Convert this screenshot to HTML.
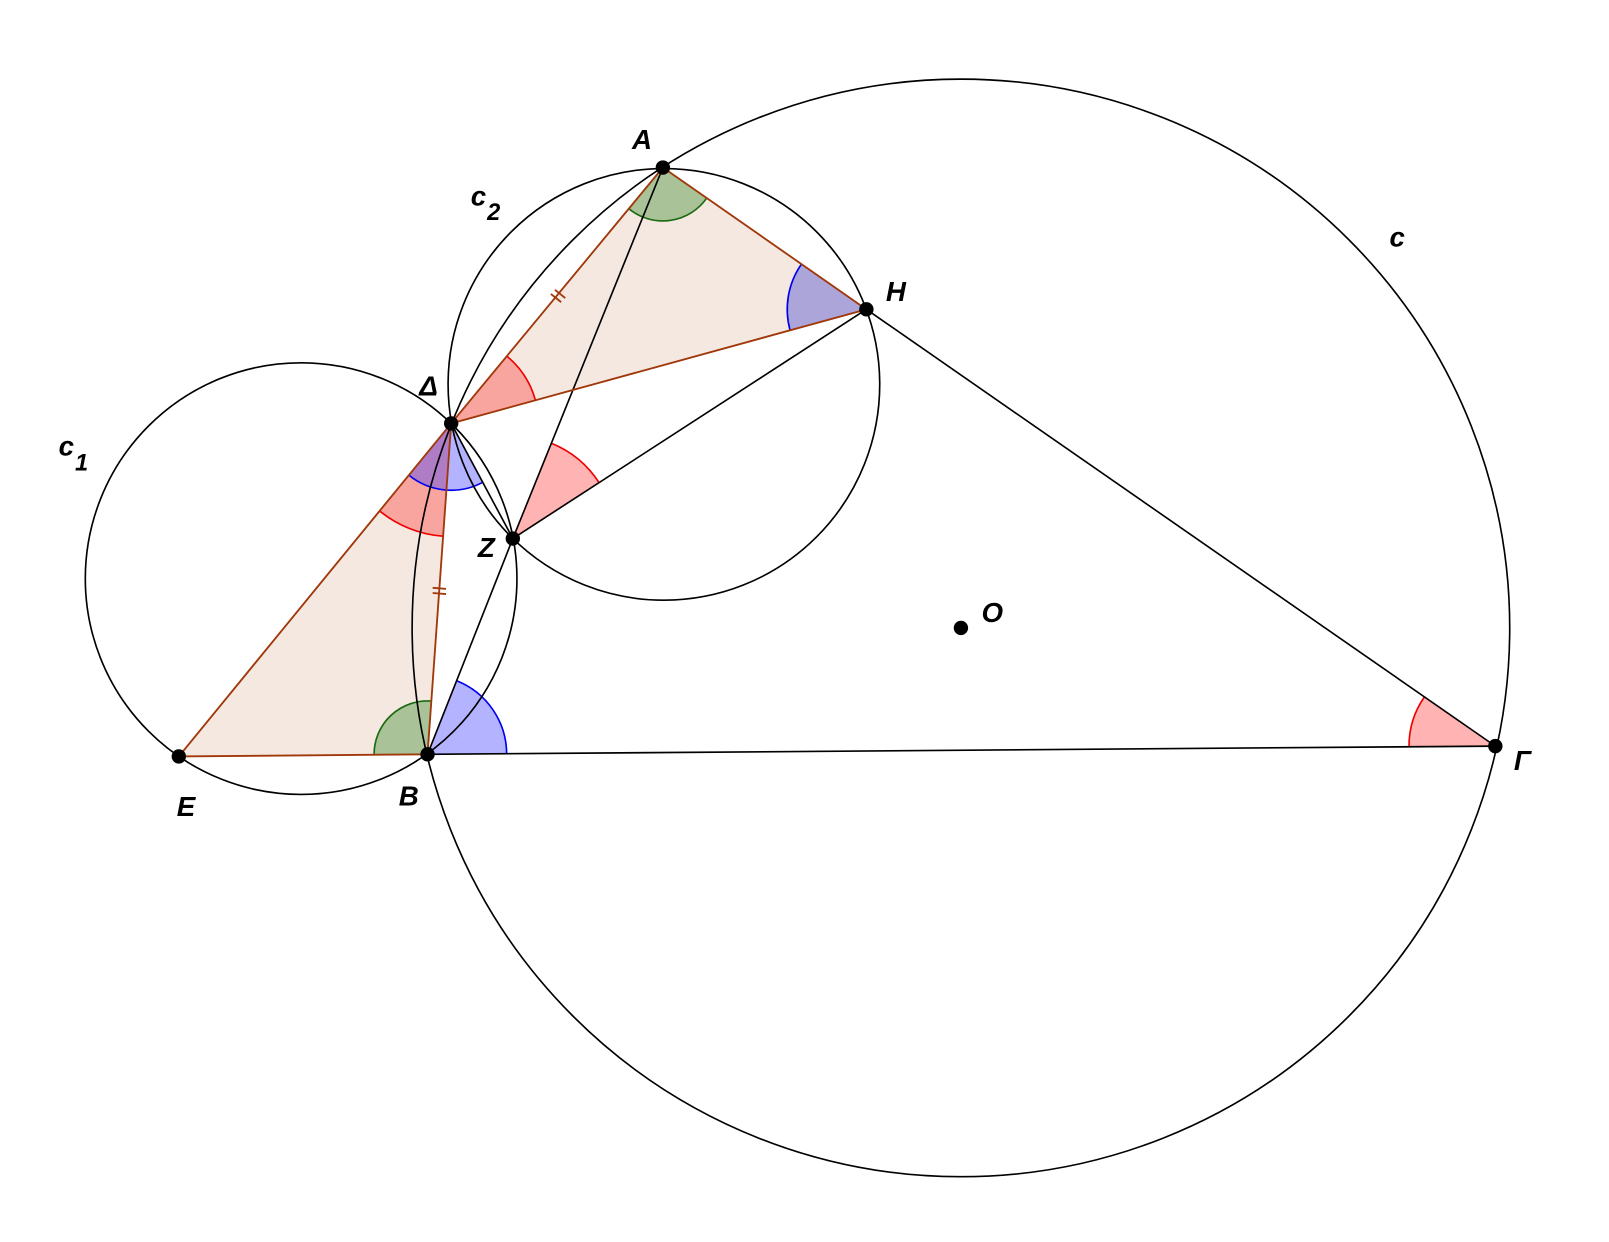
<!DOCTYPE html>
<html><head><meta charset="utf-8"><style>
html,body{margin:0;padding:0;background:#fff}
svg{display:block}
text{font-family:"Liberation Sans",sans-serif;font-style:italic;font-weight:bold;font-size:27px;fill:#000}
</style></head><body>
<svg id="s" width="1609" height="1242" viewBox="0 0 1565.6 1208.5" xmlns="http://www.w3.org/2000/svg">
<g id="fill"></g>
<g id="wedges"></g>
<g fill="none" stroke="#000" stroke-width="1.6">
<circle cx="935" cy="611" r="534"/>
<circle cx="293" cy="563" r="210"/>
<circle cx="646" cy="374" r="210"/>
<line x1="645" y1="163" x2="499" y2="524"/>
<line x1="499" y1="524" x2="843" y2="301"/>
<line x1="499" y1="524" x2="416" y2="734"/>
<line x1="439" y1="412" x2="499" y2="524"/>
<line x1="416" y1="734" x2="1455" y2="726"/>
<line x1="843" y1="301" x2="1455" y2="726"/>
</g>
<g fill="none" stroke="#a0380a" stroke-width="1.8">
<polygon points="645,163 439,412 843,301"/>
<polygon points="174,736 439,412 416,734"/>
<line x1="536" y1="286" x2="546" y2="294"/><line x1="540" y1="282" x2="550" y2="290"/>
<line x1="421" y1="572" x2="434" y2="573"/><line x1="421" y1="577" x2="434" y2="578"/>
</g>
<g fill="#000">
<circle cx="645" cy="163" r="7"/><circle cx="843" cy="301" r="7"/>
<circle cx="439" cy="412" r="7"/><circle cx="499" cy="524" r="7"/>
<circle cx="416" cy="734" r="7"/><circle cx="174" cy="736" r="7"/>
<circle cx="1455" cy="726" r="7"/><circle cx="935" cy="611" r="7"/>
</g>
<text x="615" y="145">A</text>
<text x="862" y="293">H</text>
<text x="408" y="385">Δ</text>
<text x="458" y="200">c</text><text x="474" y="214" style="font-size:23px">2</text>
<text x="1352" y="240">c</text>
<text x="57" y="443">c</text><text x="73" y="458" style="font-size:23px">1</text>
<text x="465" y="542">Z</text>
<text x="955" y="605">O</text>
<text x="172" y="794">E</text>
<text x="388" y="784">B</text>
<text x="1473" y="749">Γ</text>
</svg>
<script>
var ns="http://www.w3.org/2000/svg";
var f=document.getElementById("fill");
function poly(p,c,o){var e=document.createElementNS(ns,"polygon");e.setAttribute("points",p);e.setAttribute("fill",c);e.setAttribute("fill-opacity",o);f.appendChild(e);}
poly("645,163 439,412 843,301","#c98a66",0.2);
poly("174,736 439,412 416,734","#c98a66",0.2);
var w=document.getElementById("wedges");
function wedge(C,P1,P2,r,fill,stroke){
 var a1=Math.atan2(P1[1]-C[1],P1[0]-C[0]),a2=Math.atan2(P2[1]-C[1],P2[0]-C[0]);
 var d=a2-a1;while(d>Math.PI)d-=2*Math.PI;while(d<-Math.PI)d+=2*Math.PI;
 var sx=C[0]+r*Math.cos(a1),sy=C[1]+r*Math.sin(a1),ex=C[0]+r*Math.cos(a1+d),ey=C[1]+r*Math.sin(a1+d);
 var sw=d>0?1:0;
 var p=document.createElementNS(ns,"path");
 p.setAttribute("d","M"+C[0]+","+C[1]+" L"+sx+","+sy+" A"+r+","+r+" 0 0 "+sw+" "+ex+","+ey+" Z");
 p.setAttribute("fill",fill);p.setAttribute("fill-opacity",0.4);p.setAttribute("stroke","none");w.appendChild(p);
 var a=document.createElementNS(ns,"path");
 a.setAttribute("d","M"+sx+","+sy+" A"+r+","+r+" 0 0 "+sw+" "+ex+","+ey);
 a.setAttribute("fill","none");a.setAttribute("stroke",stroke);a.setAttribute("stroke-width",1.6);w.appendChild(a);
}
var A=[645,163],H=[843,301],D=[439,412],Z=[499,524],B=[416,734],E=[174,736],G=[1455,726];
wedge(A,D,H,52,"#3a8a2a","#1a6a10");
wedge(H,A,D,77,"#4040d0","#0000ee");
wedge(D,A,H,85,"#ff4040","#ee0000");
wedge(Z,A,H,100,"#ff4040","#ee0000");
wedge(D,E,B,110,"#ff4040","#ee0000");
wedge(D,E,Z,65,"#4040ff","#0000ee");
wedge(B,E,D,52,"#3a8a2a","#1a6a10");
wedge(B,Z,G,77,"#4040ff","#0000ee");
wedge(G,B,H,84,"#ff4040","#ee0000");
</script>
</body></html>
